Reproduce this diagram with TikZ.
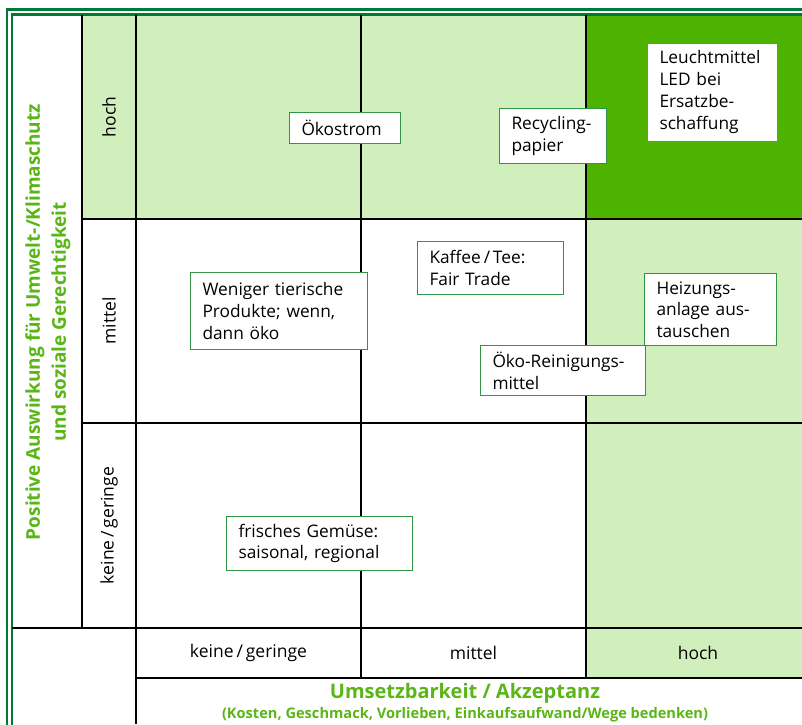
\documentclass[tikz,border=0pt]{standalone}
\usepackage{fontspec}
\setmainfont{Open Sans}
\definecolor{lightgr}{HTML}{D0EFBC}
\definecolor{darkfill}{HTML}{4EB200}
\definecolor{frame}{HTML}{007A33}
\definecolor{boxline}{HTML}{2E9646}
\definecolor{titlegr}{HTML}{5AB517}
\begin{document}
\begin{tikzpicture}[x=1pt,y=-1pt,
  grid/.style={draw=black,line width=1.2pt},
  item/.style={draw=boxline,line width=1pt,fill=white,anchor=north west,inner xsep=12pt,inner ysep=0pt,
     align=left,font=\fontsize{17.3}{21.7}\selectfont},
  lab/.style={font=\fontsize{17.5}{20}\selectfont},
  ttl/.style={text=titlegr,font=\bfseries\fontsize{19}{26}\selectfont,align=center}]
\useasboundingbox (0,0) rectangle (802,724);
% fills
\fill[lightgr] (82,15) rectangle (586,219);
\fill[darkfill] (586,15) rectangle (802,219);
\fill[lightgr] (586,219) rectangle (802,678);
% frame
\draw[frame,line width=2.6pt] (7,740) -- (7,9.5) -- (810,9.5);
\draw[frame,line width=2.6pt] (11.8,740) -- (11.8,14.3) -- (810,14.3);
% grid
\coordinate (c1t) at (82,15);  \coordinate (c1b) at (82,628);
\coordinate (c2t) at (136,15); \coordinate (c2b) at (136,724);
\coordinate (c3t) at (361,15); \coordinate (c3b) at (361,678);
\coordinate (c4t) at (586,15); \coordinate (c4b) at (586,678);
\coordinate (r1l) at (82,219); \coordinate (r1r) at (802,219);
\coordinate (r2l) at (82,423); \coordinate (r2r) at (802,423);
\coordinate (r3l) at (12,628); \coordinate (r3r) at (802,628);
\coordinate (r4l) at (136,678); \coordinate (r4r) at (802,678);
\draw[grid] (c1t) -- (c1b) (c2t) -- (c2b) (c3t) -- (c3b) (c4t) -- (c4b);
\draw[grid] (r1l) -- (r1r) (r2l) -- (r2r) (r3l) -- (r3r) (r4l) -- (r4r);
% row labels
\node[lab,rotate=90] (rh) at (109,117) {hoch};
\node[lab,rotate=90] (rm) at (109,321) {mittel};
\node[lab,rotate=90] (rk) at (109,525.5) {keine\,/\,geringe};
% column labels
\node[lab] (ck) at (248.5,653) {keine\,/\,geringe};
\node[lab] (cm) at (473.5,653) {mittel};
\node[lab] (ch) at (698,653) {hoch};
% titles
\node[ttl,rotate=90] (ty) at (48,322) {Positive Auswirkung für Umwelt-/Klimaschutz\\und soziale Gerechtigkeit};
\node[ttl,font=\bfseries\fontsize{20}{26}\selectfont] (tx) at (465,693) {Umsetzbarkeit / Akzeptanz};
\node[text=titlegr,font=\bfseries\fontsize{14.6}{16}\selectfont] (tx2) at (465,715) {(Kosten, Geschmack, Vorlieben, Einkaufsaufwand/Wege bedenken)};
% items
\node[item,text width=87pt,minimum height=31pt] (oekostrom) at (289,112) {Ökostrom};
\node[item,text width=83pt,minimum height=55pt] (recyc) at (499,108) {Recycling-\\papier};
\node[item,draw=none,text width=105pt,minimum height=97pt] (led) at (647,43) {Leuchtmittel\\LED bei\\Ersatzbe-\\schaffung};
\node[item,text width=153pt,minimum height=77pt] (tier) at (190,272) {Weniger tierische\\Produkte; wenn,\\dann öko};
\node[item,text width=122pt,minimum height=53pt] (kaffee) at (417,241) {Kaffee\,/\,Tee:\\Fair Trade};
\node[item,text width=108pt,minimum height=72pt] (heiz) at (644,273) {Heizungs-\\anlage aus-\\tauschen};
\node[item,text width=141pt,minimum height=50pt] (reinig) at (480,345) {Öko-Reinigungs-\\mittel};
\node[item,text width=162pt,minimum height=54pt] (gemuese) at (226,516) {frisches Gemüse:\\saisonal, regional};
\end{tikzpicture}
\end{document}
